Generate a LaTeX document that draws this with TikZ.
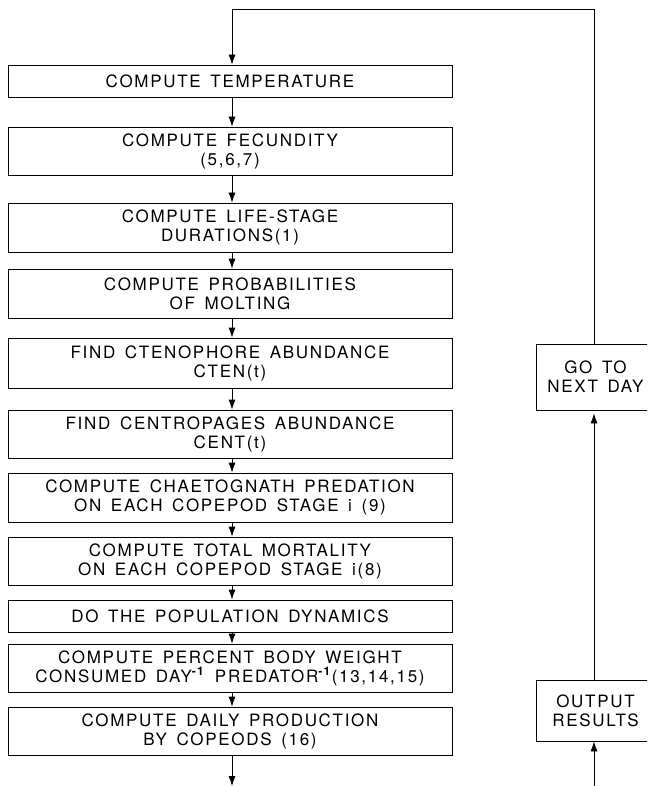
\documentclass[tikz,border=0pt]{standalone}
\usepackage{fontspec}
\setmainfont{TeX Gyre Heros}[LetterSpace=10,WordSpace=1.5]
\usetikzlibrary{arrows.meta}
\begin{document}
\begin{tikzpicture}[x=1pt,y=-1pt,
  box/.style={draw,line width=0.8pt,inner sep=0pt,align=center,
    font=\fontsize{17}{19}\selectfont},
  lbox/.style={box,minimum width=444pt},
  rbox/.style={box,minimum width=119pt},
  arr/.style={line width=0.8pt,-{Latex[length=10pt,width=7pt]}}]
\clip (0,0) rectangle (647,786);
\node[lbox,minimum height=32pt] (b1) at (230,81) {COMPUTE TEMPERATURE};
\node[lbox,minimum height=48pt] (b2) at (230,151) {COMPUTE FECUNDITY\\(5,6,7)};
\node[lbox,minimum height=49pt] (b3) at (230,227.5) {COMPUTE LIFE-STAGE\\DURATIONS(1)};
\node[lbox,minimum height=49pt] (b4) at (230,293.5) {COMPUTE PROBABILITIES\\OF MOLTING};
\node[lbox,minimum height=50pt] (b5) at (230,363) {FIND CTENOPHORE ABUNDANCE\\CTEN(t)};
\node[lbox,minimum height=48pt] (b6) at (230,434) {FIND CENTROPAGES ABUNDANCE\\CENT(t)};
\node[lbox,minimum height=49pt] (b7) at (230,497.5) {COMPUTE CHAETOGNATH PREDATION\\ON EACH COPEPOD STAGE i (9)};
\node[lbox,minimum height=48pt] (b8) at (230,561) {COMPUTE TOTAL MORTALITY\\ON EACH COPEPOD STAGE i(8)};
\node[lbox,minimum height=32pt] (b9) at (230,616) {DO THE POPULATION DYNAMICS};
\node[lbox,minimum height=48pt] (b10) at (230,668) {COMPUTE PERCENT BODY WEIGHT\\CONSUMED DAY\textsuperscript{\textbf{-1}} PREDATOR\textsuperscript{\textbf{-1}}(13,14,15)};
\node[lbox,minimum height=48pt] (b11) at (230,731) {COMPUTE DAILY PRODUCTION\\BY COPEODS (16)};
\node[rbox,minimum height=66pt] (go) at (595.5,377) {GO TO\\NEXT DAY};
\node[rbox,minimum height=61pt] (out) at (595.5,710.5) {OUTPUT\\RESULTS};
\coordinate (ax) at (232,0);
\coordinate (tr) at (594,9);
\coordinate (tl) at (232,9);
\coordinate (bend) at (232,786);
\coordinate (rend) at (594,786);
\foreach \a/\b in {b1/b2,b2/b3,b3/b4,b4/b5,b5/b6,b6/b7,b7/b8,b8/b9,b9/b10,b10/b11}
  \draw[arr] (\a.south -| ax) -- (\b.north -| ax);
\draw[arr] (b11.south -| ax) -- (bend);
\draw[arr] (go.north -| tr) -- (tr) -- (tl) -- (b1.north -| tl);
\draw[arr] (rend) -- (out.south -| rend);
\draw[arr,shorten >=3pt] (out.north -| rend) -- (go.south -| rend);
\end{tikzpicture}
\end{document}
